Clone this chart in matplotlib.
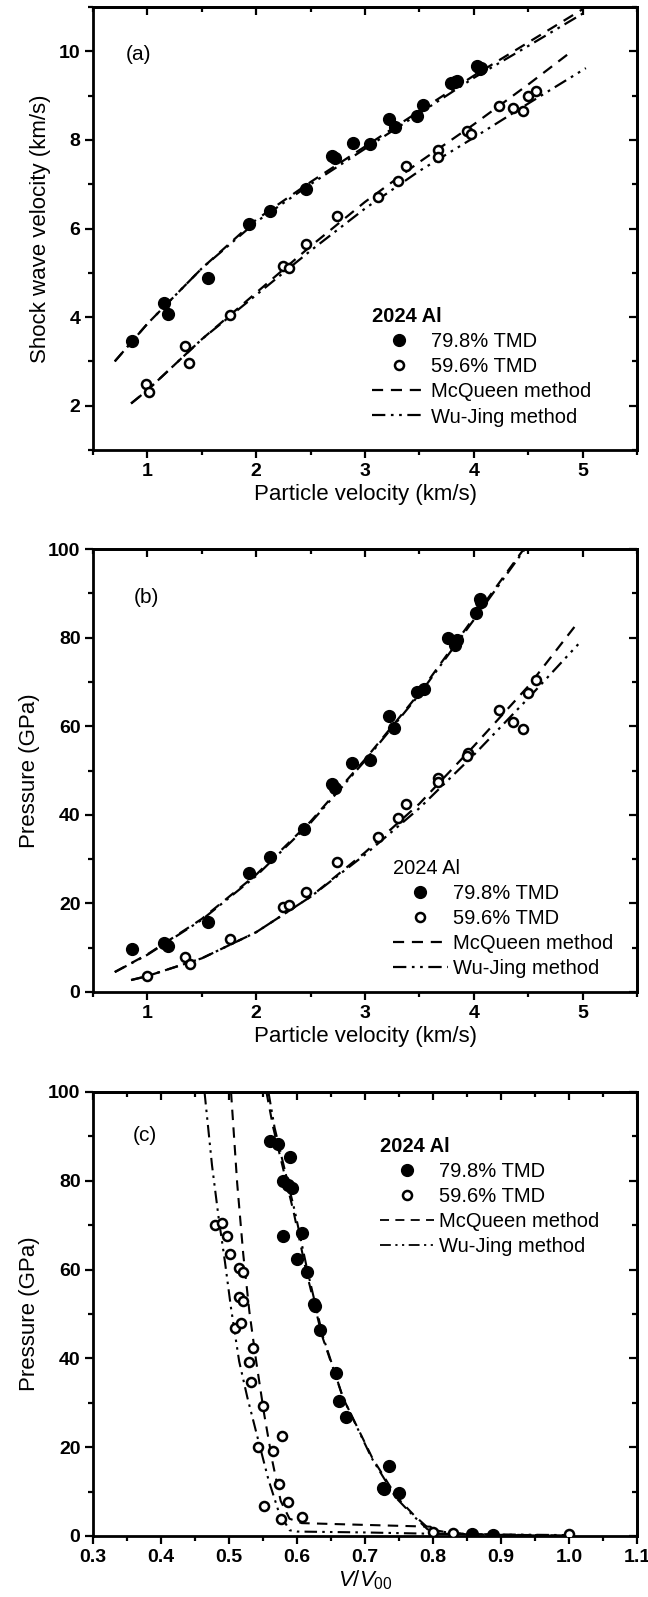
import numpy as np
import matplotlib
matplotlib.use('Agg')
import matplotlib.pyplot as plt
from matplotlib.ticker import MultipleLocator, NullFormatter
from matplotlib.lines import Line2D

plt.rcParams['font.family'] = ['Liberation Sans', 'DejaVu Sans']
plt.rcParams['mathtext.fontset'] = 'custom'
plt.rcParams['mathtext.rm'] = 'Liberation Sans'
plt.rcParams['mathtext.it'] = 'Liberation Sans:italic'

# ---- panel (a): shock velocity vs particle velocity ----
up_798 = [0.855, 1.15, 1.19, 1.56, 1.93, 2.13, 2.455, 2.70, 2.72, 2.886, 3.05, 3.217, 3.274,
          3.48, 3.53, 3.79, 3.85, 3.83, 4.03, 4.06, 4.07]
us_798 = [3.46, 4.32, 4.08, 4.89, 6.11, 6.39, 6.89, 7.64, 7.60, 7.93, 7.90, 8.48, 8.30,
          8.54, 8.79, 9.28, 9.32, 9.30, 9.67, 9.61, 9.62]
up_596 = [0.99, 1.015, 1.343, 1.38, 1.758, 2.246, 2.30, 2.455, 2.74, 3.12, 3.30, 3.38,
          3.67, 3.67, 3.94, 3.97, 4.23, 4.36, 4.45, 4.50, 4.57]
us_596 = [2.48, 2.31, 3.35, 2.97, 4.04, 5.15, 5.11, 5.64, 6.29, 6.70, 7.08, 7.42,
          7.77, 7.61, 8.20, 8.14, 8.77, 8.71, 8.65, 8.98, 9.11]

mq_a_hi_x = [0.7, 1.0, 1.5, 2.0, 2.5, 3.0, 3.5, 4.0, 4.5, 5.0]
mq_a_hi_y = [3.0, 3.85, 5.1, 6.2, 7.05, 7.85, 8.65, 9.45, 10.2, 10.95]
wj_a_hi_x = [0.7, 1.0, 1.5, 2.0, 2.5, 3.0, 3.5, 4.0, 4.5, 5.0]
wj_a_hi_y = [3.0, 3.85, 5.1, 6.15, 7.0, 7.8, 8.6, 9.4, 10.12, 10.85]
mq_a_lo_x = [0.85, 1.0, 1.5, 2.0, 2.5, 3.0, 3.5, 4.0, 4.5, 4.9]
mq_a_lo_y = [2.05, 2.35, 3.5, 4.55, 5.6, 6.6, 7.5, 8.35, 9.25, 10.0]
wj_a_lo_x = [0.85, 1.0, 1.5, 2.0, 2.5, 3.0, 3.5, 4.0, 4.5, 5.03]
wj_a_lo_y = [2.05, 2.35, 3.5, 4.5, 5.5, 6.45, 7.3, 8.05, 8.82, 9.62]

# ---- panel (b): pressure vs particle velocity ----
p_up_798 = [0.855, 1.15, 1.19, 1.56, 1.93, 2.13, 2.44, 2.70, 2.72, 2.88, 3.05, 3.22, 3.27,
            3.48, 3.54, 3.76, 3.85, 3.83, 4.02, 4.06, 4.07]
p_798 = [9.8, 11.0, 10.4, 15.7, 26.8, 30.4, 36.9, 47.0, 46.1, 51.6, 52.4, 62.4, 59.5,
         67.7, 68.3, 79.8, 79.4, 78.4, 85.5, 88.7, 88.1]
p_up_596 = [1.0, 1.35, 1.39, 1.76, 2.25, 2.30, 2.455, 2.74, 3.12, 3.30, 3.38, 3.67, 3.67,
            3.95, 3.94, 4.23, 4.36, 4.45, 4.50, 4.57]
p_596 = [3.6, 7.9, 6.4, 11.9, 19.3, 19.7, 22.5, 29.3, 34.9, 39.3, 42.4, 48.4, 47.3,
         53.9, 53.3, 63.7, 60.9, 59.4, 67.5, 70.5]

mq_b_hi_x = [0.7, 1.0, 1.5, 2.0, 2.5, 3.0, 3.5, 4.0, 4.46]
mq_b_hi_y = [4.5, 8.5, 16.5, 26.5, 38.5, 52.5, 67.5, 84.5, 100.0]
wj_b_hi_x = [0.7, 1.0, 1.5, 2.0, 2.5, 3.0, 3.5, 4.0, 4.47]
wj_b_hi_y = [4.5, 8.4, 16.3, 26.2, 38.2, 52.2, 67.2, 84.0, 100.0]
mq_b_lo_x = [0.85, 1.0, 1.5, 2.0, 2.5, 3.0, 3.5, 4.0, 4.5, 4.95]
mq_b_lo_y = [2.7, 3.6, 7.6, 13.5, 21.5, 31.5, 42.5, 55.5, 69.0, 83.2]
wj_b_lo_x = [0.85, 1.0, 1.5, 2.0, 2.5, 3.0, 3.5, 4.0, 4.5, 4.96]
wj_b_lo_y = [2.7, 3.6, 7.6, 13.5, 21.5, 31.0, 41.5, 53.5, 66.3, 78.5]

# ---- panel (c): pressure vs V/V00 ----
v_798 = [0.561, 0.572, 0.589, 0.580, 0.587, 0.593, 0.579, 0.608, 0.600, 0.614, 0.625, 0.626,
         0.634, 0.658, 0.662, 0.672, 0.726, 0.728, 0.736, 0.750, 0.857, 0.888]
pv_798 = [88.9, 88.3, 85.3, 79.9, 79.1, 78.3, 67.6, 68.2, 62.4, 59.5, 52.3, 51.7,
          46.5, 36.8, 30.4, 26.8, 10.9, 10.5, 15.7, 9.7, 0.4, 0.3]
v_596 = [0.480, 0.489, 0.497, 0.502, 0.514, 0.521, 0.515, 0.521, 0.509, 0.517, 0.535, 0.530,
         0.532, 0.550, 0.543, 0.564, 0.578, 0.574, 0.587, 0.552, 0.576, 0.607, 0.800, 0.830, 1.0]
pv_596 = [70.0, 70.5, 67.6, 63.6, 60.4, 59.5, 53.9, 52.9, 46.9, 47.9, 42.3, 39.1,
          34.6, 29.2, 20.0, 19.1, 22.5, 11.7, 7.6, 6.7, 3.9, 4.3, 1.0, 0.6, 0.4]

mq_c_hi_x = [0.555, 0.565, 0.576, 0.595, 0.613, 0.637, 0.668, 0.711, 0.747, 0.772, 0.795, 0.83, 0.9, 1.0]
mq_c_hi_y = [100.0, 92.0, 85.0, 73.0, 60.0, 45.0, 31.0, 17.5, 8.7, 4.7, 1.5, 0.6, 0.2, 0.0]
wj_c_hi_x = [0.558, 0.567, 0.578, 0.597, 0.615, 0.638, 0.668, 0.710, 0.745, 0.770, 0.792, 0.83, 0.9, 1.0]
wj_c_hi_y = [100.0, 92.0, 85.0, 73.0, 60.0, 45.0, 31.0, 17.5, 8.7, 4.7, 1.5, 0.6, 0.3, 0.1]
mq_c_lo_x = [0.503, 0.512, 0.521, 0.530, 0.540, 0.552, 0.564, 0.576, 0.589, 0.607, 0.70, 0.796, 0.81, 1.0]
mq_c_lo_y = [100.0, 79.5, 63.4, 50.5, 39.3, 27.2, 16.7, 7.9, 3.9, 2.9, 2.5, 2.1, 0.5, 0.0]
wj_c_lo_x = [0.464, 0.475, 0.485, 0.494, 0.503, 0.515, 0.527, 0.543, 0.558, 0.573, 0.589, 0.60, 0.70, 0.80, 1.0]
wj_c_lo_y = [100.0, 83.5, 71.4, 61.8, 51.3, 39.3, 31.2, 21.6, 12.7, 5.5, 1.3, 1.0, 0.8, 0.5, 0.2]

MQ = (0, (5, 3.5))
WJ = (0, (6, 2.5, 1.2, 2.5, 1.2, 2.5))

fig = plt.figure(figsize=(6.48, 15.97), dpi=100)
W, H = 648.0, 1597.0


def make_ax(top_px, bot_px):
    return fig.add_axes([93 / W, 1 - bot_px / H, 544 / W, (bot_px - top_px) / H])


def style(ax, xmaj, xmin, ymaj, ymin):
    for s in ax.spines.values():
        s.set_linewidth(2.0)
    ax.xaxis.set_major_locator(MultipleLocator(xmaj))
    ax.xaxis.set_minor_locator(MultipleLocator(xmin))
    ax.yaxis.set_major_locator(MultipleLocator(ymaj))
    ax.yaxis.set_minor_locator(MultipleLocator(ymin))
    ax.tick_params(which='both', direction='out', width=1.6, labelsize=14, pad=3)
    ax.tick_params(which='major', length=6)
    ax.tick_params(which='minor', length=3.5)
    for lab in ax.get_xticklabels() + ax.get_yticklabels():
        lab.set_fontweight('bold')
    top = ax.secondary_xaxis('top')
    top.xaxis.set_major_locator(MultipleLocator(xmaj))
    top.xaxis.set_minor_locator(MultipleLocator(xmin))
    top.xaxis.set_major_formatter(NullFormatter())
    top.tick_params(which='both', direction='in', width=1.6)
    top.tick_params(which='major', length=6)
    top.tick_params(which='minor', length=3.5)
    top.spines['top'].set_linewidth(2.0)
    right = ax.secondary_yaxis('right')
    right.yaxis.set_major_locator(MultipleLocator(ymaj))
    right.yaxis.set_minor_locator(MultipleLocator(ymin))
    right.yaxis.set_major_formatter(NullFormatter())
    right.tick_params(which='both', direction='in', width=1.6)
    right.tick_params(which='major', length=6)
    right.tick_params(which='minor', length=3.5)
    right.spines['right'].set_linewidth(2.0)


def add_legend(ax, x, y, title_bold, lw_leg):
    handles = [
        Line2D([], [], ls='none', marker='o', ms=8.5, mfc='k', mec='k'),
        Line2D([], [], ls='none', marker='o', ms=6.5, mfc='white', mec='k', mew=1.8),
        Line2D([], [], color='k', ls=MQ, lw=lw_leg),
        Line2D([], [], color='k', ls=WJ, lw=lw_leg),
    ]
    leg = ax.legend(handles, ['79.8% TMD', '59.6% TMD', 'McQueen method', 'Wu-Jing method'],
                    title='2024 Al', loc='upper left', bbox_to_anchor=(x, y), frameon=False,
                    fontsize=14.5, title_fontsize=14.5, handlelength=2.7, handletextpad=0.25,
                    labelspacing=0.3, borderaxespad=0, borderpad=0, alignment='left')
    if title_bold:
        leg.get_title().set_fontweight('bold')


def draw_points(ax, x1, y1, x2, y2, ms1=8.5, ms2=6.5):
    ax.plot(x1, y1, 'o', ms=ms1, mfc='k', mec='k', zorder=5)
    ax.plot(x2, y2, 'o', ms=ms2, mfc='white', mec='k', mew=1.8, zorder=5)


# (a)
ax1 = make_ax(7, 450)
ax1.plot(mq_a_hi_x, mq_a_hi_y, color='k', ls=MQ, lw=1.6)
ax1.plot(wj_a_hi_x, wj_a_hi_y, color='k', ls=WJ, lw=1.6)
ax1.plot(mq_a_lo_x, mq_a_lo_y, color='k', ls=MQ, lw=1.6)
ax1.plot(wj_a_lo_x, wj_a_lo_y, color='k', ls=WJ, lw=1.6)
draw_points(ax1, up_798, us_798, up_596, us_596)
ax1.set_xlim(0.5, 5.5)
ax1.set_ylim(1, 11)
style(ax1, 1, 0.5, 2, 1)
ax1.set_xlabel('Particle velocity (km/s)', fontsize=16, labelpad=3)
ax1.set_ylabel('Shock wave velocity (km/s)', fontsize=16, labelpad=6)
ax1.text(0.084, 0.893, '(a)', transform=ax1.transAxes, fontsize=15, ha='center', va='center')
add_legend(ax1, 0.513, 0.322, True, 1.6)

# (b)
ax2 = make_ax(549, 992)
ax2.plot(mq_b_hi_x, mq_b_hi_y, color='k', ls=MQ, lw=1.6)
ax2.plot(wj_b_hi_x, wj_b_hi_y, color='k', ls=WJ, lw=1.6)
ax2.plot(mq_b_lo_x, mq_b_lo_y, color='k', ls=MQ, lw=1.6)
ax2.plot(wj_b_lo_x, wj_b_lo_y, color='k', ls=WJ, lw=1.6)
draw_points(ax2, p_up_798, p_798, p_up_596, p_596)
ax2.set_xlim(0.5, 5.5)
ax2.set_ylim(0, 100)
style(ax2, 1, 0.5, 20, 10)
ax2.set_xlabel('Particle velocity (km/s)', fontsize=16, labelpad=3)
ax2.set_ylabel('Pressure (GPa)', fontsize=16, labelpad=6)
ax2.text(0.099, 0.891, '(b)', transform=ax2.transAxes, fontsize=15, ha='center', va='center')
add_legend(ax2, 0.552, 0.300, False, 1.6)

# (c)
ax3 = make_ax(1092, 1536)
ax3.plot(mq_c_hi_x, mq_c_hi_y, color='k', ls=MQ, lw=1.5)
ax3.plot(wj_c_hi_x, wj_c_hi_y, color='k', ls=WJ, lw=1.5)
ax3.plot(mq_c_lo_x, mq_c_lo_y, color='k', ls=MQ, lw=1.5)
ax3.plot(wj_c_lo_x, wj_c_lo_y, color='k', ls=WJ, lw=1.5)
draw_points(ax3, v_798, pv_798, v_596, pv_596)
ax3.set_xlim(0.3, 1.1)
ax3.set_ylim(0, 100)
style(ax3, 0.1, 0.05, 20, 10)
ax3.set_xlabel(r'$\mathit{V}/\mathit{V}_{00}$', fontsize=16, labelpad=2)
ax3.set_ylabel('Pressure (GPa)', fontsize=16, labelpad=6)
ax3.text(0.095, 0.903, '(c)', transform=ax3.transAxes, fontsize=15, ha='center', va='center')
add_legend(ax3, 0.527, 0.898, True, 1.3)

fig.savefig('out.png', dpi=100)
